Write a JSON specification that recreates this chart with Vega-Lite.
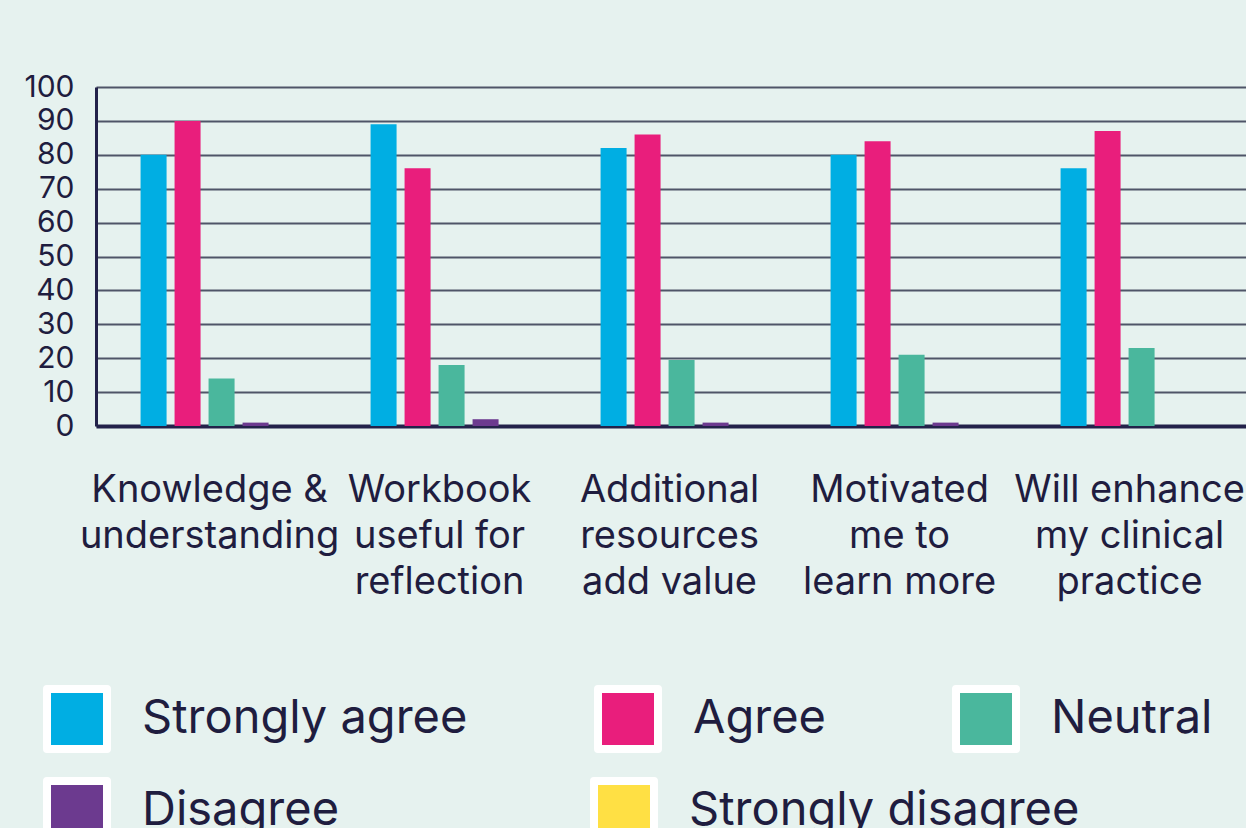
{
  "$schema": "https://vega.github.io/schema/vega-lite/v6.json",
  "width": 1150,
  "height": 339,
  "autosize": {"type": "none"},
  "padding": {"left": 96, "top": 87, "right": 0, "bottom": 402},
  "background": "#e6f2ef",
  "config": {"view": {"stroke": null}, "font": "Inter"},
  "data": {"values": [
    {"statement": "Knowledge & understanding", "response": "Strongly agree", "value": 80},
    {"statement": "Knowledge & understanding", "response": "Agree", "value": 90},
    {"statement": "Knowledge & understanding", "response": "Neutral", "value": 14},
    {"statement": "Knowledge & understanding", "response": "Disagree", "value": 1},
    {"statement": "Knowledge & understanding", "response": "Strongly disagree", "value": 0},
    {"statement": "Workbook useful for reflection", "response": "Strongly agree", "value": 89},
    {"statement": "Workbook useful for reflection", "response": "Agree", "value": 76},
    {"statement": "Workbook useful for reflection", "response": "Neutral", "value": 18},
    {"statement": "Workbook useful for reflection", "response": "Disagree", "value": 2},
    {"statement": "Workbook useful for reflection", "response": "Strongly disagree", "value": 0},
    {"statement": "Additional resources add value", "response": "Strongly agree", "value": 82},
    {"statement": "Additional resources add value", "response": "Agree", "value": 86},
    {"statement": "Additional resources add value", "response": "Neutral", "value": 19.5},
    {"statement": "Additional resources add value", "response": "Disagree", "value": 1},
    {"statement": "Additional resources add value", "response": "Strongly disagree", "value": 0},
    {"statement": "Motivated me to learn more", "response": "Strongly agree", "value": 80},
    {"statement": "Motivated me to learn more", "response": "Agree", "value": 84},
    {"statement": "Motivated me to learn more", "response": "Neutral", "value": 21},
    {"statement": "Motivated me to learn more", "response": "Disagree", "value": 1},
    {"statement": "Motivated me to learn more", "response": "Strongly disagree", "value": 0},
    {"statement": "Will enhance my clinical practice", "response": "Strongly agree", "value": 76},
    {"statement": "Will enhance my clinical practice", "response": "Agree", "value": 87},
    {"statement": "Will enhance my clinical practice", "response": "Neutral", "value": 23},
    {"statement": "Will enhance my clinical practice", "response": "Disagree", "value": 0},
    {"statement": "Will enhance my clinical practice", "response": "Strongly disagree", "value": 0}
  ]},
  "encoding": {
    "x": {
      "field": "statement", "type": "nominal",
      "sort": ["Knowledge & understanding", "Workbook useful for reflection", "Additional resources add value", "Motivated me to learn more", "Will enhance my clinical practice"],
      "scale": {"paddingInner": 0.4435, "paddingOuter": 0.2217, "align": 0.437},
      "axis": {
        "title": null, "ticks": false, "domainColor": "#23224a", "domainWidth": 4,
        "labelFont": "Inter", "labelFontSize": 38, "labelLineHeight": 46, "labelPadding": 45,
        "labelAngle": 0, "labelColor": "#1f1d3f", "labelLimit": 1000, "labelOverlap": false, "labelFlush": false, "labelOffset": 5,
        "labelExpr": "datum.value == 'Knowledge & understanding' ? ['Knowledge &', 'understanding'] : datum.value == 'Workbook useful for reflection' ? ['Workbook', 'useful for', 'reflection'] : datum.value == 'Additional resources add value' ? ['Additional', 'resources', 'add value'] : datum.value == 'Motivated me to learn more' ? ['Motivated', 'me to', 'learn more'] : ['Will enhance', 'my clinical', 'practice']"
      }
    },
    "xOffset": {
      "field": "response", "type": "nominal",
      "scale": {"domain": ["Strongly agree", "Agree", "Neutral", "Disagree"], "paddingInner": 0.235, "paddingOuter": 0}
    },
    "y": {
      "field": "value", "type": "quantitative",
      "scale": {"domain": [0, 100], "nice": false},
      "axis": {
        "title": null, "tickCount": 10, "grid": true, "gridColor": "#4f5568", "gridWidth": 1.8,
        "ticks": false, "domainColor": "#23224a", "domainWidth": 3,
        "labelFont": "Inter", "labelFontSize": 30, "labelColor": "#1f1d3f", "labelPadding": 22
      }
    }
  },
  "layer": [
    {
      "transform": [{"filter": {"field": "response", "oneOf": ["Strongly agree", "Agree", "Neutral"]}}],
      "mark": {"type": "bar"},
      "encoding": {
        "color": {
          "field": "response", "type": "nominal",
          "scale": {"domain": ["Strongly agree", "Agree", "Neutral"], "range": ["#00aee3", "#e91e7c", "#4ab79d"]},
          "legend": {
            "title": null, "orient": "none", "legendX": -53, "legendY": 598,
            "direction": "horizontal", "columns": 3, "columnPadding": 126, "padding": 0,
            "symbolType": "square", "symbolSize": 3600,
            "labelFont": "Inter", "labelFontSize": 47, "labelColor": "#1f1d3f", "labelOffset": 31, "labelLimit": 1000,
            "encode": {"symbols": {"update": {"stroke": {"value": "white"}, "strokeWidth": {"value": 8}, "strokeJoin": {"value": "round"}, "opacity": {"value": 1}}}}
          }
        }
      }
    },
    {
      "transform": [{"filter": {"field": "response", "equal": "Disagree"}}],
      "mark": {"type": "bar"},
      "encoding": {
        "color": {
          "field": "response", "type": "nominal",
          "scale": {"domain": ["Disagree", "Strongly disagree"], "range": ["#6c3a8f", "#ffe044"]},
          "legend": {
            "title": null, "orient": "none", "legendX": -53, "legendY": 690,
            "direction": "horizontal", "columns": 2, "columnPadding": 250, "padding": 0,
            "symbolType": "square", "symbolSize": 3600,
            "labelFont": "Inter", "labelFontSize": 47, "labelColor": "#1f1d3f", "labelOffset": 31, "labelLimit": 1000,
            "encode": {"symbols": {"update": {"stroke": {"value": "white"}, "strokeWidth": {"value": 8}, "strokeJoin": {"value": "round"}, "opacity": {"value": 1}}}}
          }
        }
      }
    }
  ],
  "resolve": {"scale": {"color": "independent"}, "legend": {"color": "independent"}}
}
